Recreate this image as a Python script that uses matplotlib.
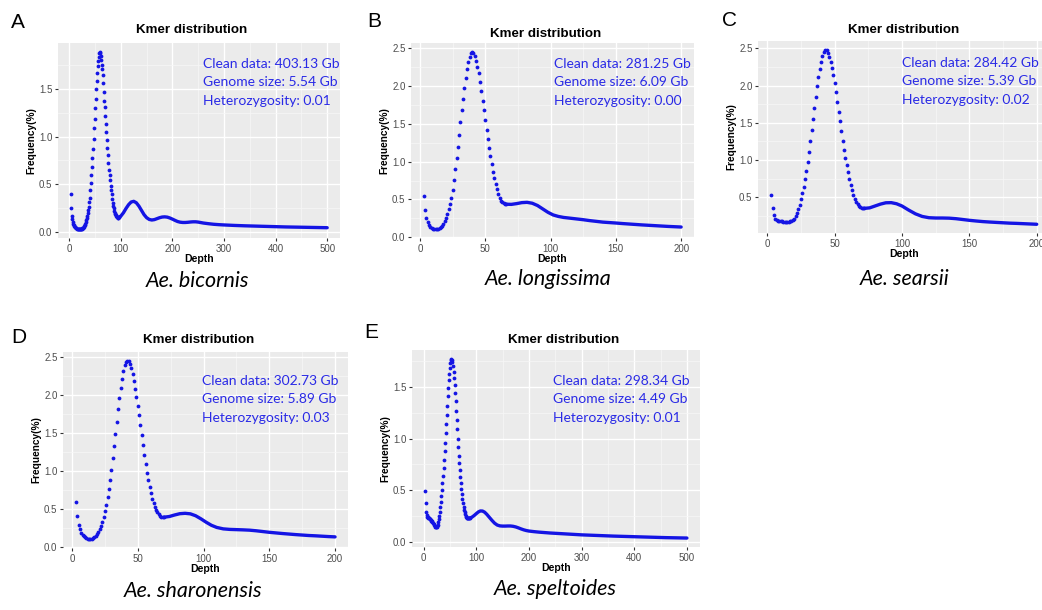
import matplotlib
matplotlib.use("Agg")
import matplotlib.pyplot as plt
import numpy as np
from matplotlib.ticker import MultipleLocator, FormatStrFormatter

# ---------------- data ----------------
# Panel A: Ae. bicornis
a_fine_depth = list(range(3, 98))
a_fine_freq = [0.40, 0.25, 0.17, 0.13, 0.10, 0.085, 0.07, 0.06, 0.052, 0.046,
               0.041, 0.037, 0.034, 0.032, 0.030, 0.029, 0.028, 0.028, 0.028, 0.029,
               0.030, 0.032, 0.035, 0.039, 0.044, 0.051, 0.060, 0.071, 0.085, 0.10,
               0.12, 0.145, 0.17, 0.20, 0.23, 0.265, 0.31, 0.356, 0.436, 0.513,
               0.593, 0.68, 0.778, 0.872, 0.977, 1.09, 1.19, 1.30, 1.40, 1.50,
               1.587, 1.667, 1.744, 1.796, 1.84, 1.876, 1.89, 1.883, 1.848, 1.80,
               1.754, 1.709, 1.65, 1.56, 1.464, 1.378, 1.31, 1.22, 1.134, 1.046,
               0.96, 0.879, 0.802, 0.726, 0.653, 0.593, 0.541, 0.481, 0.436, 0.394,
               0.349, 0.307, 0.272, 0.245, 0.222, 0.20, 0.185, 0.172, 0.163, 0.157,
               0.153, 0.15, 0.15, 0.152, 0.156]
a_tail_depth = [97, 100, 105, 110, 115, 120, 125, 130, 135, 140, 145, 150, 155, 160,
                165, 170, 175, 180, 185, 190, 195, 200, 205, 210, 215, 220, 225, 230,
                235, 240, 245, 250, 255, 260, 270, 280, 290, 300, 320, 340, 360, 380,
                400, 420, 440, 460, 480, 500]
a_tail_freq = [0.156, 0.165, 0.20, 0.245, 0.285, 0.313, 0.32, 0.305, 0.27, 0.225, 0.18,
               0.148, 0.13, 0.124, 0.128, 0.138, 0.148, 0.155, 0.157, 0.154, 0.145,
               0.133, 0.12, 0.108, 0.101, 0.098, 0.098, 0.100, 0.103, 0.105, 0.105,
               0.102, 0.097, 0.092, 0.085, 0.079, 0.075, 0.072, 0.067, 0.063, 0.060,
               0.057, 0.054, 0.051, 0.049, 0.047, 0.045, 0.043]

# Panel B: Ae. longissima
b_fine_depth = list(range(3, 67))
b_fine_freq = [0.54, 0.36, 0.25, 0.195, 0.16, 0.14, 0.125, 0.115, 0.11, 0.107,
               0.108, 0.113, 0.122, 0.135, 0.155, 0.18, 0.215, 0.26, 0.31, 0.37,
               0.44, 0.52, 0.63, 0.76, 0.90, 1.05, 1.20, 1.36, 1.52, 1.68,
               1.83, 1.98, 2.11, 2.23, 2.32, 2.39, 2.44, 2.455, 2.44, 2.40,
               2.34, 2.26, 2.17, 2.06, 1.94, 1.81, 1.68, 1.55, 1.42, 1.30,
               1.18, 1.07, 0.965, 0.87, 0.78, 0.70, 0.635, 0.575, 0.525, 0.485,
               0.46, 0.447, 0.44, 0.437]
b_tail_depth = [66, 70, 74, 78, 82, 86, 90, 94, 98, 102, 106, 110, 115, 120, 125, 130,
                135, 140, 145, 150, 155, 160, 165, 170, 175, 180, 185, 190, 195, 200]
b_tail_freq = [0.437, 0.435, 0.445, 0.458, 0.462, 0.45, 0.42, 0.375, 0.33, 0.295, 0.275,
               0.262, 0.252, 0.242, 0.232, 0.22, 0.21, 0.2, 0.194, 0.188, 0.181, 0.175,
               0.169, 0.163, 0.158, 0.153, 0.148, 0.143, 0.139, 0.135]

# Panel C: Ae. searsii
c_fine_depth = list(range(3, 73))
c_fine_freq = [0.53, 0.36, 0.26, 0.215, 0.195, 0.188, 0.184, 0.181, 0.179, 0.177,
               0.176, 0.175, 0.175, 0.176, 0.178, 0.183, 0.195, 0.215, 0.245, 0.285,
               0.34, 0.405, 0.475, 0.555, 0.645, 0.745, 0.855, 0.975, 1.11, 1.25,
               1.40, 1.55, 1.70, 1.85, 1.99, 2.11, 2.22, 2.32, 2.40, 2.45,
               2.48, 2.475, 2.44, 2.38, 2.31, 2.23, 2.14, 2.03, 1.91, 1.785,
               1.65, 1.52, 1.39, 1.26, 1.14, 1.03, 0.93, 0.835, 0.745, 0.665,
               0.595, 0.535, 0.485, 0.445, 0.415, 0.39, 0.373, 0.362, 0.356, 0.353]
c_tail_depth = [72, 76, 80, 84, 88, 92, 96, 100, 105, 110, 115, 120, 125, 130, 135, 140,
                145, 150, 155, 160, 165, 170, 175, 180, 185, 190, 195, 200]
c_tail_freq = [0.353, 0.36, 0.385, 0.41, 0.428, 0.43, 0.415, 0.385, 0.33, 0.28, 0.245,
               0.228, 0.224, 0.224, 0.222, 0.215, 0.204, 0.193, 0.184, 0.176, 0.17,
               0.165, 0.16, 0.155, 0.152, 0.148, 0.144, 0.14]

# Panel D: Ae. sharonensis
d_fine_depth = list(range(3, 71))
d_fine_freq = [0.59, 0.41, 0.30, 0.24, 0.195, 0.165, 0.145, 0.132, 0.122, 0.115,
               0.111, 0.109, 0.11, 0.117, 0.13, 0.148, 0.172, 0.20, 0.235, 0.28,
               0.335, 0.40, 0.475, 0.56, 0.655, 0.76, 0.88, 1.02, 1.17, 1.33,
               1.49, 1.65, 1.81, 1.96, 2.09, 2.21, 2.31, 2.385, 2.43, 2.445,
               2.44, 2.41, 2.35, 2.27, 2.18, 2.08, 1.97, 1.85, 1.73, 1.60,
               1.47, 1.34, 1.21, 1.09, 0.98, 0.88, 0.79, 0.71, 0.64, 0.58,
               0.53, 0.49, 0.46, 0.435, 0.418, 0.405, 0.398, 0.396]
d_tail_depth = [70, 74, 78, 82, 86, 90, 94, 98, 102, 106, 110, 115, 120, 125, 130, 135,
                140, 145, 150, 155, 160, 165, 170, 175, 180, 185, 190, 195, 200]
d_tail_freq = [0.396, 0.405, 0.425, 0.442, 0.447, 0.44, 0.415, 0.375, 0.33, 0.29, 0.262,
               0.243, 0.236, 0.233, 0.23, 0.226, 0.218, 0.208, 0.198, 0.19, 0.182,
               0.175, 0.168, 0.162, 0.156, 0.152, 0.147, 0.142, 0.138]

# Panel E: Ae. speltoides
e_fine_depth = list(range(3, 89))
e_fine_freq = [0.49, 0.37, 0.29, 0.255, 0.24, 0.235, 0.232, 0.229, 0.226, 0.222,
               0.217, 0.21, 0.203, 0.195, 0.186, 0.177, 0.168, 0.16, 0.152, 0.145,
               0.14, 0.138, 0.14, 0.148, 0.162, 0.185, 0.215, 0.25, 0.29, 0.335,
               0.385, 0.44, 0.50, 0.565, 0.635, 0.71, 0.79, 0.875, 0.96, 1.05,
               1.14, 1.23, 1.32, 1.41, 1.49, 1.565, 1.63, 1.685, 1.73, 1.76,
               1.772, 1.765, 1.74, 1.70, 1.65, 1.59, 1.52, 1.44, 1.36, 1.27,
               1.18, 1.09, 1.00, 0.915, 0.835, 0.76, 0.69, 0.625, 0.565, 0.51,
               0.46, 0.415, 0.375, 0.34, 0.31, 0.285, 0.265, 0.25, 0.24, 0.233,
               0.228, 0.225, 0.224, 0.224, 0.225, 0.227]
e_tail_depth = [88, 92, 96, 100, 104, 108, 112, 116, 120, 125, 130, 135, 140, 145, 150,
                155, 160, 165, 170, 175, 180, 185, 190, 195, 200, 210, 220, 230, 240,
                250, 260, 270, 280, 290, 300, 320, 340, 360, 380, 400, 420, 440, 460,
                480, 500]
e_tail_freq = [0.227, 0.237, 0.252, 0.27, 0.287, 0.297, 0.296, 0.285, 0.265, 0.235,
               0.205, 0.178, 0.16, 0.152, 0.15, 0.15, 0.151, 0.151, 0.148, 0.142,
               0.133, 0.123, 0.114, 0.107, 0.102, 0.096, 0.091, 0.087, 0.083, 0.08,
               0.077, 0.074, 0.071, 0.068, 0.065, 0.061, 0.057, 0.053, 0.05, 0.047,
               0.044, 0.041, 0.038, 0.036, 0.034]

panel_letters = ["A", "B", "C", "D", "E"]
species = ["Ae. bicornis", "Ae. longissima", "Ae. searsii", "Ae. sharonensis", "Ae. speltoides"]
clean_data = ["403.13", "281.25", "284.42", "302.73", "298.34"]
genome_size = ["5.54", "6.09", "5.39", "5.89", "4.49"]
heterozygosity = ["0.01", "0.00", "0.02", "0.03", "0.01"]
x_major = [100, 50, 50, 50, 100]

# ---------------- layout (pixels) ----------------
W, H = 1042, 610
fig = plt.figure(figsize=(W / 100, H / 100), dpi=100)
fig.patch.set_facecolor("white")

def fx(x):
    return x / W

def fy(y):
    return 1 - y / H

boxes = [(58, 43, 340, 238), (411, 43, 694, 238), (758, 41, 1050, 233),
         (63, 352, 348, 548), (412, 350, 700, 547)]
letter_pos = [(11, 28), (367, 27), (722, 26), (11, 343), (364, 338)]
title_pos = [(192, 33), (546, 37), (904, 33), (199, 343), (564, 343)]
ann_pos = [(203, 68), (554, 68), (902, 67), (202, 385), (553, 385)]
species_pos = [(197, 287), (548, 285), (905, 285), (193, 597), (555, 595)]

fine = [(a_fine_depth, a_fine_freq), (b_fine_depth, b_fine_freq), (c_fine_depth, c_fine_freq),
        (d_fine_depth, d_fine_freq), (e_fine_depth, e_fine_freq)]
tail = [(a_tail_depth, a_tail_freq), (b_tail_depth, b_tail_freq), (c_tail_depth, c_tail_freq),
        (d_tail_depth, d_tail_freq), (e_tail_depth, e_tail_freq)]

ARIAL = "Liberation Sans"
DOT = "#1414E4"
TXT_BLUE = "#2A2AE6"

for i in range(5):
    l, t, r, b = boxes[i]
    ax = fig.add_axes([fx(l), fy(b), (r - l) / W, (b - t) / H])
    ax.set_facecolor("#EBEBEB")
    for s in ax.spines.values():
        s.set_visible(False)
    fd, ff = np.asarray(fine[i][0]), np.asarray(fine[i][1])
    td, tf = np.asarray(tail[i][0]), np.asarray(tail[i][1])
    ax.plot(td, tf, color=DOT, lw=2.4, solid_capstyle="round", zorder=3)
    ax.scatter(fd, ff, s=7.5, color=DOT, linewidths=0, zorder=4)
    ax.margins(x=0.05, y=0.05)
    ax.xaxis.set_major_locator(MultipleLocator(x_major[i]))
    ax.xaxis.set_minor_locator(MultipleLocator(x_major[i] / 2))
    ax.yaxis.set_major_locator(MultipleLocator(0.5))
    ax.yaxis.set_minor_locator(MultipleLocator(0.25))
    ax.yaxis.set_major_formatter(FormatStrFormatter("%.1f"))
    ax.grid(which="major", color="white", lw=1.0)
    ax.grid(which="minor", color="#F7F7F7", lw=0.5)
    ax.set_axisbelow(True)
    ax.tick_params(which="major", length=2.5, width=0.8, color="#333333", pad=1.5,
                   labelsize=7, labelcolor="#4D4D4D")
    ax.tick_params(which="minor", length=0)
    for lab in ax.get_xticklabels() + ax.get_yticklabels():
        lab.set_fontfamily(ARIAL)
    ax.set_xlabel("Depth", fontsize=7.6, fontweight="bold", family=ARIAL, labelpad=0.5)
    ax.set_ylabel("Frequency(%)", fontsize=7.3, fontweight="bold", family=ARIAL, labelpad=2)

    lx, ly = letter_pos[i]
    fig.text(fx(lx), fy(ly), panel_letters[i], fontsize=15, family=ARIAL,
             ha="left", va="baseline")
    tx, ty = title_pos[i]
    fig.text(fx(tx), fy(ty), "Kmer distribution", fontsize=9.6, fontweight="bold",
             family=ARIAL, ha="center", va="baseline")
    axx, ayy = ann_pos[i]
    lines = ["Clean data: %s Gb" % clean_data[i], "Genome size: %s Gb" % genome_size[i],
             "Heterozygosity: %s" % heterozygosity[i]]
    for k, line in enumerate(lines):
        fig.text(fx(axx), fy(ayy + 18.4 * k), line, fontsize=10, family="Lato",
                 color=TXT_BLUE, ha="left", va="baseline")
    sx, sy = species_pos[i]
    fig.text(fx(sx), fy(sy), species[i], fontsize=15.5, family="Lato", style="italic",
             ha="center", va="baseline")

fig.savefig("out.png", dpi=100)
